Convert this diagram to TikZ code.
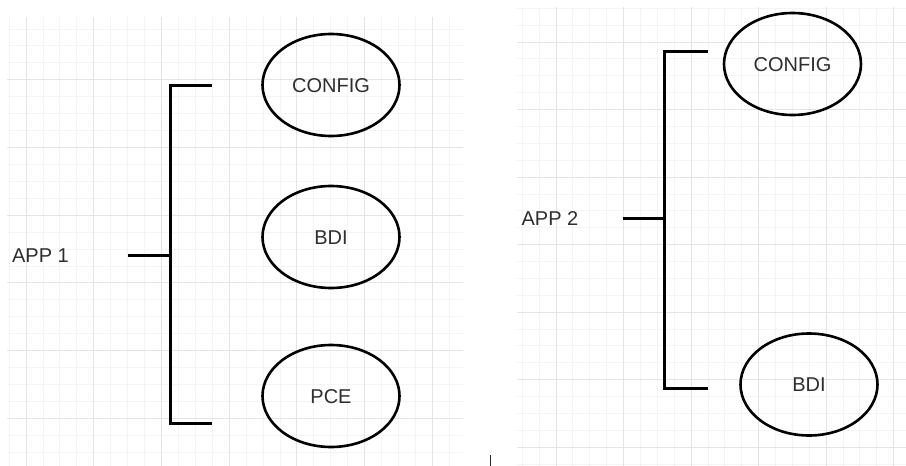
\documentclass[tikz,border=0pt]{standalone}
\usepackage{fontspec}
\setmainfont{Liberation Sans}
\usetikzlibrary{shapes.geometric}
\definecolor{textgray}{HTML}{2E2E2E}
\definecolor{majorgray}{HTML}{E4E4E4}
\definecolor{minorgray}{HTML}{F4F4F4}
\tikzset{
  oval/.style={draw, ellipse, line width=2.6pt, minimum width=137pt, minimum height=102pt,
    inner sep=0pt, text=textgray, font=\fontsize{20}{23}\selectfont, text height=14pt, text depth=0pt},
  applabel/.style={text=textgray, font=\fontsize{20}{23}\selectfont, inner sep=0pt,
    text height=14pt, text depth=0pt},
  bracket/.style={line width=3pt},
  minorgrid/.style={minorgray, line width=0.8pt},
  majorgrid/.style={majorgray, line width=1pt}
}
\begin{document}
\begin{tikzpicture}[x=1pt, y=-1pt]
    \useasboundingbox (0,0) rectangle (906,466);
    \fill[white] (0,0) rectangle (906,466);

    % grid, linkes Blatt
    \begin{scope}
      \clip (7,17) rectangle (463,466);
      \foreach \i in {-2,...,28} {
        \draw[minorgrid] ({26+\i*16.93},0) -- ++(0,466);
        \draw[minorgrid] (0,{12+\i*16.93}) -- ++(906,0);
      }
      \foreach \i in {0,...,6} {
        \draw[majorgrid] ({26+\i*67.7},0) -- ++(0,466);
        \draw[majorgrid] (0,{12+\i*67.7}) -- ++(906,0);
      }
    \end{scope}

    % grid, rechtes Blatt
    \begin{scope}
      \clip (517,7) rectangle (906,466);
      \foreach \i in {-2,...,28} {
        \draw[minorgrid] ({556+\i*16.88},0) -- ++(0,466);
        \draw[minorgrid] (0,{42+\i*16.88}) -- ++(906,0);
      }
      \foreach \i in {-1,...,6} {
        \draw[majorgrid] ({556+\i*67.5},0) -- ++(0,466);
        \draw[majorgrid] (0,{42+\i*67.5}) -- ++(906,0);
      }
    \end{scope}

    % APP 1
    \node[applabel] (app1) at (40.5,255) {APP 1};
    \node[oval] (config1) at (331,85) {CONFIG};
    \node[oval] (bdi1) at (331,237) {BDI};
    \node[oval] (pce1) at (331,396) {PCE};

    \coordinate (stub1) at (128,255);
    \coordinate (join1) at (170,255);
    \coordinate (top1) at (212,85);
    \coordinate (bot1) at (212,423);
    \draw[bracket] (top1) -| (join1) |- (bot1);
    \draw[bracket] (stub1) -- (join1);

    % APP 2
    \node[applabel] (app2) at (550,218) {APP 2};
    \node[oval] (config2) at (792.5,64) {CONFIG};
    \node[oval] (bdi2) at (809,384.5) {BDI};

    \coordinate (stub2) at (623,218);
    \coordinate (join2) at (664,218);
    \coordinate (top2) at (708,51);
    \coordinate (bot2) at (708,388);
    \draw[bracket] (top2) -| (join2) |- (bot2);
    \draw[bracket] (stub2) -- (join2);

    % kleiner Strich unten
    \draw[line width=1pt, black!85] (490,455) -- (490,466);
\end{tikzpicture}
\end{document}
